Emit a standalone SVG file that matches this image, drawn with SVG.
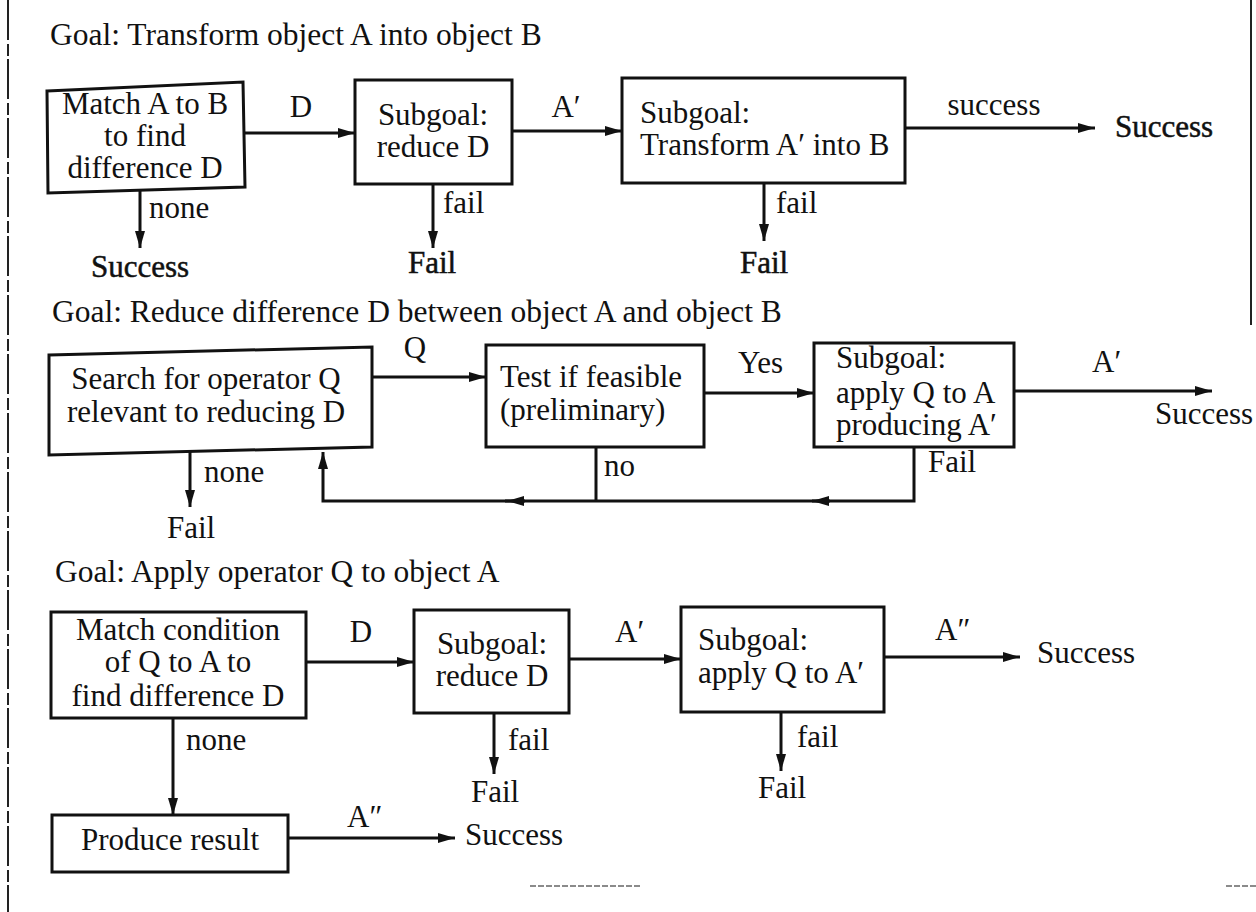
<svg xmlns="http://www.w3.org/2000/svg" width="1256" height="912" viewBox="0 0 1256 912">
<style>
text{font-family:"Liberation Serif","Times New Roman",serif;font-size:31px;fill:#111}
.title{font-size:31.5px}
.mid{text-anchor:middle}
.term{stroke:#111;stroke-width:0.5}
.box{fill:#fff;stroke:#111;stroke-width:3}
.ln{fill:none;stroke:#111;stroke-width:3}
.edge{fill:none;stroke:#222;stroke-width:2}
</style>
<defs>
<marker id="ah" markerUnits="userSpaceOnUse" markerWidth="18" markerHeight="12" refX="17" refY="6" orient="auto">
<path d="M0,1 L17,6 L0,11 z" fill="#111"/>
</marker>
</defs>
<rect width="1256" height="912" fill="#fff"/>
<g id="scan-edges">
<line class="edge" x1="8" y1="0" x2="8" y2="912" stroke-dasharray="40 4 12 3"/>
<line class="edge" x1="1251" y1="0" x2="1251" y2="325"/>
<line x1="530" y1="886" x2="640" y2="886" stroke="#666" stroke-width="1.5" stroke-dasharray="6 2"/>
<line x1="1226" y1="886" x2="1256" y2="886" stroke="#666" stroke-width="1.5" stroke-dasharray="6 2"/>
</g>

<g id="titles">
<text class="title" x="50" y="45">Goal:  Transform object A into object B</text>
<text class="title" x="52" y="322">Goal:  Reduce difference D between object A and object B</text>
<text class="title" x="55" y="582">Goal:  Apply operator Q to object A</text>
</g>

<g id="connectors">
<line class="ln" x1="243" y1="133" x2="355" y2="133" marker-end="url(#ah)"/>
<line class="ln" x1="512" y1="131" x2="622" y2="131" marker-end="url(#ah)"/>
<line class="ln" x1="905" y1="128" x2="1095" y2="128" marker-end="url(#ah)"/>
<line class="ln" x1="140" y1="190" x2="140" y2="248" marker-end="url(#ah)"/>
<line class="ln" x1="433" y1="184" x2="433" y2="248" marker-end="url(#ah)"/>
<line class="ln" x1="764" y1="183" x2="764" y2="241" marker-end="url(#ah)"/>
<line class="ln" x1="372" y1="377" x2="486" y2="377" marker-end="url(#ah)"/>
<line class="ln" x1="704" y1="393" x2="814" y2="393" marker-end="url(#ah)"/>
<line class="ln" x1="1014" y1="391" x2="1212" y2="391" marker-end="url(#ah)"/>
<line class="ln" x1="190" y1="450" x2="190" y2="507" marker-end="url(#ah)"/>
<path class="ln" d="M914,447 V501 H810"/>
<line class="ln" x1="830" y1="501" x2="812" y2="501" marker-end="url(#ah)"/>
<path class="ln" d="M596,447 V501"/>
<path class="ln" d="M810,501 H505"/>
<line class="ln" x1="525" y1="501" x2="507" y2="501" marker-end="url(#ah)"/>
<path class="ln" d="M507,501 H323 V452" marker-end="url(#ah)"/>
<line class="ln" x1="306" y1="662" x2="414" y2="662" marker-end="url(#ah)"/>
<line class="ln" x1="569" y1="659" x2="681" y2="659" marker-end="url(#ah)"/>
<line class="ln" x1="884" y1="657" x2="1020" y2="657" marker-end="url(#ah)"/>
<line class="ln" x1="173" y1="718" x2="173" y2="815" marker-end="url(#ah)"/>
<line class="ln" x1="288" y1="838" x2="455" y2="838" marker-end="url(#ah)"/>
<line class="ln" x1="494" y1="713" x2="494" y2="774" marker-end="url(#ah)"/>
<line class="ln" x1="781" y1="712" x2="781" y2="771" marker-end="url(#ah)"/>
</g>

<g id="labels">
<text class="mid" x="301" y="117">D</text>
<text class="mid" x="566" y="117">A′</text>
<text class="mid" x="994" y="115">success</text>
<text x="149" y="218">none</text>
<text x="443" y="213">fail</text>
<text x="776" y="213">fail</text>
<text class="mid" x="415" y="358">Q</text>
<text x="738" y="373">Yes</text>
<text x="1092" y="372">A′</text>
<text x="204" y="482">none</text>
<text x="604" y="476">no</text>
<text x="928" y="472">Fail</text>
<text class="mid" x="361" y="642">D</text>
<text x="615" y="642">A′</text>
<text x="935" y="640">A″</text>
<text x="186" y="750">none</text>
<text x="347" y="827">A″</text>
<text x="508" y="750">fail</text>
<text x="797" y="747">fail</text>
</g>

<g id="terminals">
<text class="term" x="1115" y="137">Success</text>
<text class="term" x="91" y="277">Success</text>
<text class="term" x="408" y="273">Fail</text>
<text class="term" x="740" y="273">Fail</text>
<text x="1155" y="424">Success</text>
<text x="167" y="538">Fail</text>
<text x="1037" y="663">Success</text>
<text x="465" y="845">Success</text>
<text x="471" y="802">Fail</text>
<text x="758" y="798">Fail</text>
</g>

<g id="n1">
<path class="box" d="M47,91 L243,82 L245,187 L48,193 Z"/>
<text class="mid" x="145" y="114">Match A to B</text>
<text class="mid" x="145" y="146">to find</text>
<text class="mid" x="145" y="178">difference D</text>
</g>
<g id="n2">
<rect class="box" x="355" y="80" width="157" height="104"/>
<text class="mid" x="433" y="125">Subgoal:</text>
<text class="mid" x="433" y="157">reduce D</text>
</g>
<g id="n3">
<rect class="box" x="622" y="78" width="283" height="105"/>
<text x="640" y="123">Subgoal:</text>
<text x="640" y="155">Transform A′ into B</text>
</g>
<g id="n4">
<path class="box" d="M49,355 L372,347 L372,447 L49,455 Z"/>
<text class="mid" x="206" y="389">Search for operator Q</text>
<text class="mid" x="206" y="422">relevant to reducing D</text>
</g>
<g id="n5">
<rect class="box" x="486" y="345" width="218" height="102"/>
<text x="500" y="387">Test if feasible</text>
<text x="500" y="420">(preliminary)</text>
</g>
<g id="n6">
<rect class="box" x="814" y="343" width="200" height="104"/>
<text x="836" y="368">Subgoal:</text>
<text x="836" y="403">apply Q to A</text>
<text x="836" y="435">producing A′</text>
</g>
<g id="n7">
<rect class="box" x="51" y="612" width="255" height="106"/>
<text class="mid" x="178" y="640">Match condition</text>
<text class="mid" x="178" y="672">of Q to A to</text>
<text class="mid" x="178" y="706">find difference D</text>
</g>
<g id="n8">
<rect class="box" x="414" y="610" width="155" height="103"/>
<text class="mid" x="492" y="654">Subgoal:</text>
<text class="mid" x="492" y="686">reduce D</text>
</g>
<g id="n9">
<rect class="box" x="681" y="607" width="203" height="105"/>
<text x="698" y="650">Subgoal:</text>
<text x="698" y="683">apply Q to A′</text>
</g>
<g id="n10">
<rect class="box" x="52" y="815" width="236" height="57"/>
<text class="mid" x="170" y="850">Produce result</text>
</g>
</svg>
